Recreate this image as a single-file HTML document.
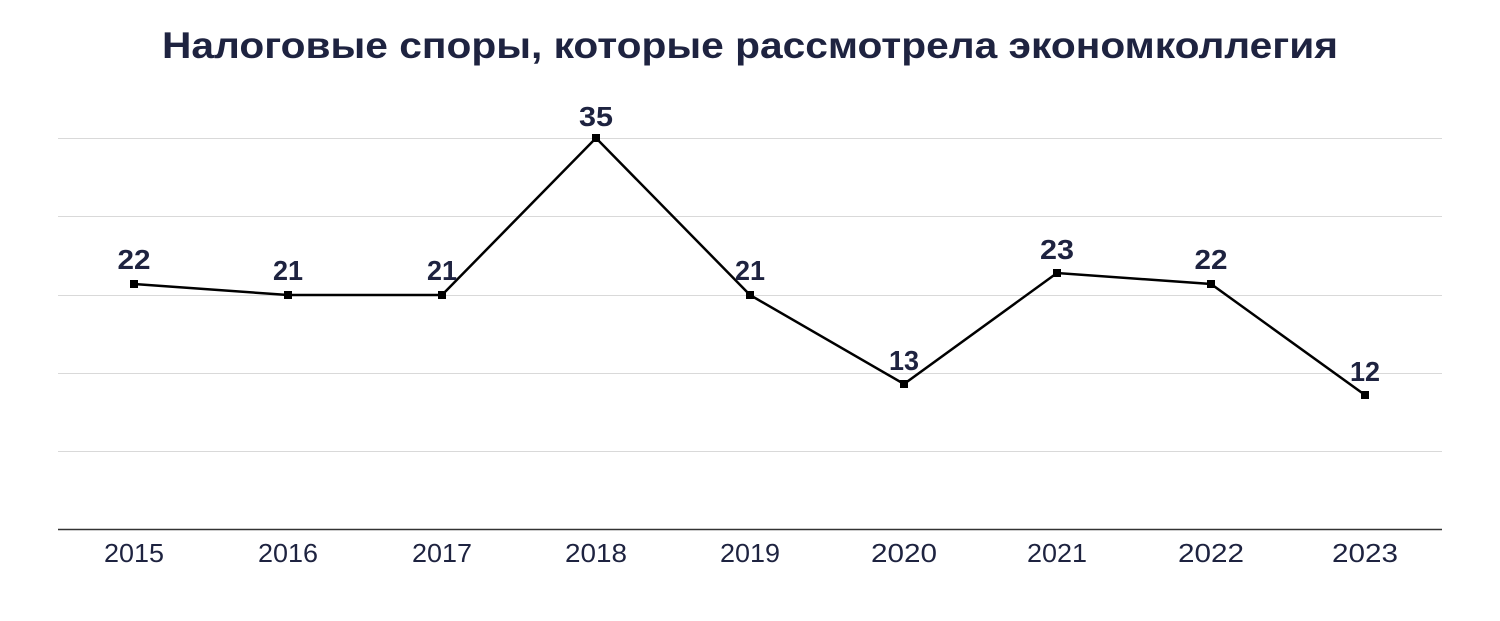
<!DOCTYPE html>
<html><head><meta charset="utf-8"><style>
body{margin:0;background:#fff;}
svg{display:block;font-family:"Liberation Sans",sans-serif;}
</style></head><body>
<svg width="1500" height="621" viewBox="0 0 1500 621">
<rect width="1500" height="621" fill="#fff"/>
<text x="162" y="58" font-size="37" font-weight="bold" fill="#1e2340" textLength="1176" lengthAdjust="spacingAndGlyphs">Налоговые споры, которые рассмотрела экономколлегия</text>
<g stroke="#d9d9d9" stroke-width="1">
<line x1="58" x2="1442" y1="138.5" y2="138.5"/>
<line x1="58" x2="1442" y1="216.5" y2="216.5"/>
<line x1="58" x2="1442" y1="295.5" y2="295.5"/>
<line x1="58" x2="1442" y1="373.5" y2="373.5"/>
<line x1="58" x2="1442" y1="451.5" y2="451.5"/>
</g>
<line x1="58" x2="1442" y1="529.5" y2="529.5" stroke="#333" stroke-width="1.5"/>
<polyline fill="none" stroke="#000" stroke-width="2.5" points="134,284 288,295 442,295 596,138 750,295 904,384 1057,273 1211,284 1365,395"/>
<g fill="#000">
<rect x="130" y="280" width="8" height="8"/><rect x="284" y="291" width="8" height="8"/><rect x="438" y="291" width="8" height="8"/><rect x="592" y="134" width="8" height="8"/><rect x="746" y="291" width="8" height="8"/><rect x="900" y="380" width="8" height="8"/><rect x="1053" y="269" width="8" height="8"/><rect x="1207" y="280" width="8" height="8"/><rect x="1361" y="391" width="8" height="8"/>
</g>
<g font-size="28" font-weight="600" fill="#1e2340" text-anchor="middle">
<text x="134" y="269" textLength="33" lengthAdjust="spacingAndGlyphs">22</text><text x="288" y="280" textLength="30" lengthAdjust="spacingAndGlyphs">21</text><text x="442" y="280" textLength="30" lengthAdjust="spacingAndGlyphs">21</text><text x="596" y="126" textLength="34" lengthAdjust="spacingAndGlyphs">35</text><text x="750" y="280" textLength="30" lengthAdjust="spacingAndGlyphs">21</text><text x="904" y="370" textLength="30" lengthAdjust="spacingAndGlyphs">13</text><text x="1057" y="259" textLength="34" lengthAdjust="spacingAndGlyphs">23</text><text x="1211" y="269" textLength="33" lengthAdjust="spacingAndGlyphs">22</text><text x="1365" y="381" textLength="30" lengthAdjust="spacingAndGlyphs">12</text>
</g>
<g font-size="26" fill="#1e2340" text-anchor="middle">
<text x="134" y="562" textLength="60" lengthAdjust="spacingAndGlyphs">2015</text><text x="288" y="562" textLength="60" lengthAdjust="spacingAndGlyphs">2016</text><text x="442" y="562" textLength="60" lengthAdjust="spacingAndGlyphs">2017</text><text x="596" y="562" textLength="62" lengthAdjust="spacingAndGlyphs">2018</text><text x="750" y="562" textLength="60" lengthAdjust="spacingAndGlyphs">2019</text><text x="904" y="562" textLength="66" lengthAdjust="spacingAndGlyphs">2020</text><text x="1057" y="562" textLength="60" lengthAdjust="spacingAndGlyphs">2021</text><text x="1211" y="562" textLength="66" lengthAdjust="spacingAndGlyphs">2022</text><text x="1365" y="562" textLength="66" lengthAdjust="spacingAndGlyphs">2023</text>
</g>
</svg>
</body></html>
